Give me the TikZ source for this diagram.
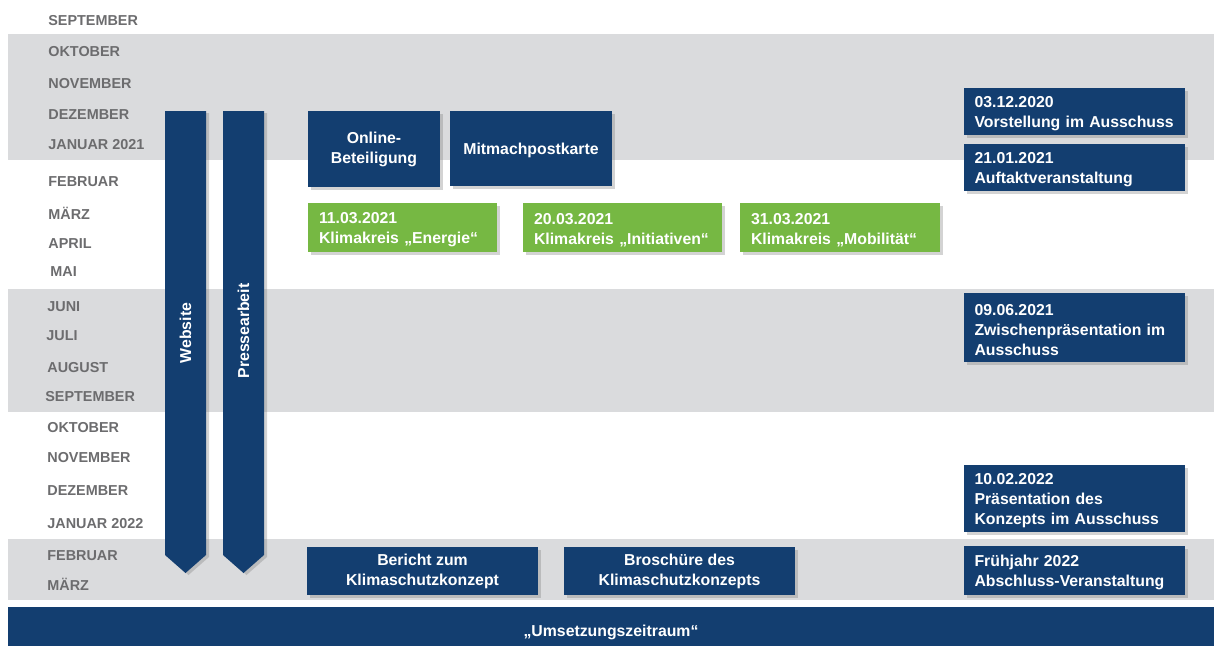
\documentclass[tikz,border=0pt]{standalone}
\usepackage{fontspec}
\setmainfont{Liberation Sans}
\usepackage{xcolor}
\usepackage{tikz}
\usetikzlibrary{shadows}

\definecolor{kblue}{RGB}{19,62,112}
\definecolor{kgreen}{RGB}{118,184,67}
\definecolor{kband}{RGB}{218,219,221}
\definecolor{kmonth}{RGB}{108,108,110}

\tikzset{
  boxfont/.style  = {font=\bfseries\fontsize{9}{11.4}\selectfont, text=white},
  bluebox/.style  = {rectangle, fill=kblue, boxfont, align=center,
                     inner ysep=0pt,
                     execute at begin node={\rule{0pt}{9pt}},
                     drop shadow={shadow xshift=0.06cm, shadow yshift=-0.06cm,
                                  opacity=0.35}},
  datebox/.style  = {bluebox, align=left, inner xsep=0.21cm,
                     text width=4.0cm},
  greenbox/.style = {bluebox, fill=kgreen, align=left, inner xsep=0.22cm},
  month/.style    = {anchor=west, inner sep=0pt, text=kmonth,
                     font=\bfseries\fontsize{8.2}{10}\selectfont},
  band/.style     = {fill=kband},
  pfeil/.style    = {fill=kblue,
                     drop shadow={shadow xshift=0.06cm, shadow yshift=-0.04cm,
                                  opacity=0.35}},
}

\begin{document}
\begin{tikzpicture}[x=0.02cm, y=-0.02cm]

  \useasboundingbox (0,0) rectangle (1214,646);

  % ---- background bands ----
  \fill[band] (8,34)  rectangle (1214,160);
  \fill[band] (8,289) rectangle (1214,412);
  \fill[band] (8,539) rectangle (1214,600);

  % ---- months ----
  \foreach \m/\xx/\yy [count=\i] in {
      SEPTEMBER/48/21, OKTOBER/48/52, NOVEMBER/48/84, DEZEMBER/48/115,
      JANUAR 2021/48/145, FEBRUAR/48/182, MÄRZ/48/213, APRIL/48/244,
      MAI/50/272, JUNI/47/307, JULI/46/336, AUGUST/47/368,
      SEPTEMBER/45/397, OKTOBER/47/428, NOVEMBER/47/458, DEZEMBER/47/491,
      JANUAR 2022/47/524, FEBRUAR/47/556, MÄRZ/47/584}
    \node[month] (m\i) at (\xx,\yy) {\m};

  % ---- long-running arrows ----
  \fill[pfeil] (165,111) -- (206,111) -- (206,555) -- (185.5,573)
               -- (165,555) -- cycle;
  \fill[pfeil] (223,111) -- (264,111) -- (264,555) -- (243.5,573)
               -- (223,555) -- cycle;
  \node[boxfont, rotate=90] (web)  at (185.5,333) {Website};
  \node[boxfont, rotate=90] (press) at (243.5,331) {Pressearbeit};

  % ---- participation ----
  \node[bluebox, minimum width=2.64cm, minimum height=1.52cm]
        (online) at (374,149) {Online-\\Beteiligung};
  \node[bluebox, minimum width=3.24cm, minimum height=1.5cm]
        (karte) at (531,148.5) {Mitmachpostkarte};

  \node[greenbox, text width=3.34cm, minimum height=0.98cm]
        (energie) at (402.5,227.5) {11.03.2021\\Klimakreis „Energie“};
  \node[greenbox, text width=3.54cm, minimum height=0.98cm]
        (initiativen) at (622.5,227.5) {20.03.2021\\Klimakreis „Initiativen“};
  \node[greenbox, text width=3.56cm, minimum height=0.98cm]
        (mobil) at (840,227.5) {31.03.2021\\Klimakreis „Mobilität“};

  % ---- committee dates ----
  \node[datebox, minimum height=0.94cm] (vorst) at (1074.5,111.5)
        {03.12.2020\\Vorstellung im Ausschuss};
  \node[datebox, minimum height=0.94cm] (auftakt) at (1074.5,167.5)
        {21.01.2021\\Auftaktveranstaltung};
  \node[datebox, minimum height=1.38cm] (zwischen) at (1074.5,327.5)
        {09.06.2021\\Zwischenpräsentation im\\Ausschuss};
  \node[datebox, minimum height=1.34cm] (praes) at (1074.5,498.5)
        {10.02.2022\\Präsentation des\\Konzepts im Ausschuss};
  \node[datebox, minimum height=0.98cm] (abschluss) at (1074.5,570.5)
        {Frühjahr 2022\\Abschluss-Veranstaltung};

  % ---- results ----
  \node[bluebox, minimum width=4.62cm, minimum height=0.96cm]
        (bericht) at (422.5,571) {Bericht zum\\Klimaschutzkonzept};
  \node[bluebox, minimum width=4.62cm, minimum height=0.96cm]
        (brosch) at (679.5,571) {Broschüre des\\Klimaschutzkonzepts};

  % ---- implementation ----
  \node[rectangle, fill=kblue, boxfont, minimum width=24.12cm,
        minimum height=0.78cm, inner ysep=0pt] (umsetzung) at (611,626.5)
        {\rule{0pt}{12.8pt}„Umsetzungszeitraum“};

\end{tikzpicture}
\end{document}
